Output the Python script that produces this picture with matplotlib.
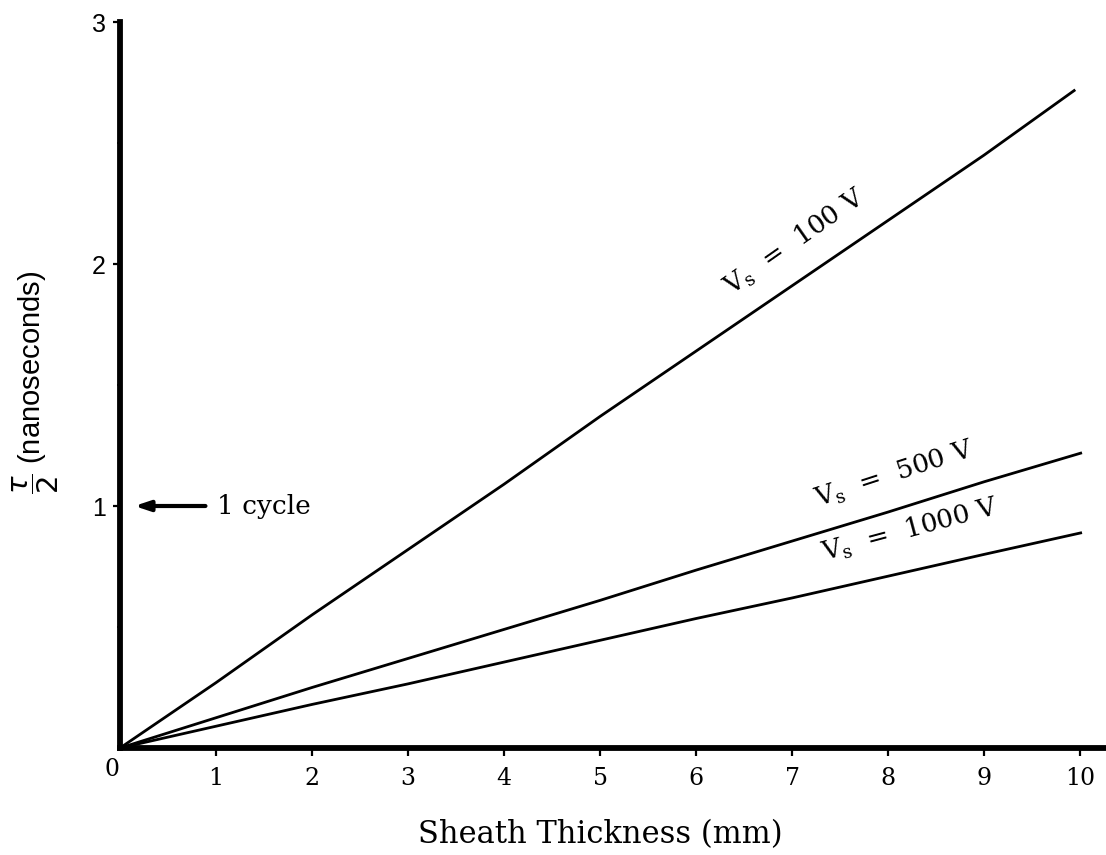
import matplotlib
matplotlib.use('Agg')
import matplotlib.pyplot as plt

# ---- data ----
thickness_100 = [0, 1, 2, 3, 4, 5, 6, 7, 8, 9, 9.95]
tau_100 = [0, 0.27, 0.55, 0.82, 1.09, 1.37, 1.64, 1.91, 2.18, 2.45, 2.72]

thickness = [0, 1, 2, 3, 4, 5, 6, 7, 8, 9, 10.02]
tau_500 = [0, 0.125, 0.25, 0.37, 0.49, 0.61, 0.735, 0.855, 0.975, 1.10, 1.22]
tau_1000 = [0, 0.09, 0.18, 0.265, 0.355, 0.445, 0.535, 0.62, 0.71, 0.80, 0.89]

x_ticks = [1, 2, 3, 4, 5, 6, 7, 8, 9, 10]
x_tick_labels = ['1', '2', '3', '4', '5', '6', '7', '8', '9', '10']
y_ticks = [1, 2, 3]
y_tick_labels = ['1', '2', '3']
y_minor = [0.5, 1.5, 2.5]

labels = ['V$_{\\mathrm{s}}$  =  100 V', 'V$_{\\mathrm{s}}$  =  500 V', 'V$_{\\mathrm{s}}$  =  1000 V']

SERIF = 'DejaVu Serif'
SANS = 'Liberation Sans'

W, H = 1106, 855
fig = plt.figure(figsize=(W / 100, H / 100), dpi=100)
ax = fig.add_axes([120 / W, 1 - 748 / H, 986 / W, 726 / H])
ax.set_xlim(0, 10.27)
ax.set_ylim(0, 3)

for s in ('top', 'right'):
    ax.spines[s].set_visible(False)
for s in ('left', 'bottom'):
    ax.spines[s].set_linewidth(4.2)
    ax.spines[s].set_capstyle('projecting')

lw = 2.0
ax.plot(thickness_100, tau_100, color='black', lw=lw, solid_capstyle='butt')
ax.plot(thickness, tau_500, color='black', lw=lw, solid_capstyle='butt')
ax.plot(thickness, tau_1000, color='black', lw=lw, solid_capstyle='butt')

ax.set_xticks(x_ticks)
ax.set_xticklabels(x_tick_labels, fontfamily=SERIF, fontsize=17)
ax.set_yticks(y_ticks)
ax.set_yticklabels(y_tick_labels, fontfamily=SANS, fontsize=18)
ax.set_yticks(y_minor, minor=True)
ax.tick_params(axis='x', direction='out', length=6, width=1.6, pad=8)
ax.tick_params(axis='y', which='major', direction='out', length=5, width=1.6, pad=5)
ax.tick_params(axis='y', which='minor', direction='out', length=2.5, width=1.2)

# origin label
ax.text(-0.085, -0.09, '0', fontfamily=SERIF, fontsize=17, ha='center', va='center',
        clip_on=False)

# curve labels
ax.text(7.03, 2.09, labels[0], fontfamily=SERIF, math_fontfamily='dejavuserif',
        fontsize=19, rotation=35, ha='center', va='center', rotation_mode='anchor')
ax.text(8.07, 1.13, labels[1], fontfamily=SERIF, math_fontfamily='dejavuserif',
        fontsize=19, rotation=18, ha='center', va='center', rotation_mode='anchor')
ax.text(8.23, 0.90, labels[2], fontfamily=SERIF, math_fontfamily='dejavuserif',
        fontsize=19, rotation=15, ha='center', va='center', rotation_mode='anchor')

# 1 cycle arrow
ax.annotate('', xy=(0.15, 1.0), xytext=(0.89, 1.0),
            arrowprops=dict(arrowstyle='-|>,head_length=0.9,head_width=0.3',
                            lw=3, color='black', shrinkA=0, shrinkB=0))
ax.text(1.01, 1.0, '1 cycle', fontfamily=SERIF, fontsize=19, ha='left', va='center')

# axis labels
fig.text(600 / W, 1 - 835 / H, 'Sheath Thickness (mm)', fontfamily=SERIF, fontsize=22,
         ha='center', va='center')
fig.text(36 / W, 1 - 382 / H, r'$\dfrac{\tau}{2}$ (nanoseconds)', fontfamily=SANS,
         math_fontfamily='dejavusans', fontsize=21, rotation=90, ha='center', va='center')

fig.savefig('out.png', dpi=100, facecolor='white')
